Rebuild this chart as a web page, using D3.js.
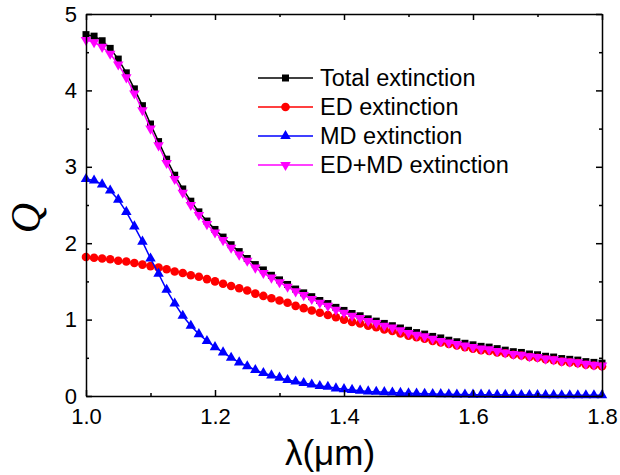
<!DOCTYPE html>
<html>
<head>
<meta charset="utf-8">
<script src="https://cdn.jsdelivr.net/npm/d3@7/dist/d3.min.js"></script>
<style>
  html, body { margin: 0; padding: 0; background: #fff; }
  svg { display: block; font-family: Arial, "Liberation Sans", sans-serif; }
</style>
</head>
<body>
<svg id="chart" width="620" height="475"></svg>
<script>
// Wavelength samples (µm)
const lambda = [1.0000,1.0125,1.0250,1.0375,1.0500,1.0625,1.0750,1.0875,1.1000,1.1125,1.1250,1.1375,1.1500,1.1625,1.1750,1.1875,
  1.2000,1.2125,1.2250,1.2375,1.2500,1.2625,1.2750,1.2875,1.3000,1.3125,1.3250,1.3375,1.3500,1.3625,1.3750,1.3875,
  1.4000,1.4125,1.4250,1.4375,1.4500,1.4625,1.4750,1.4875,1.5000,1.5125,1.5250,1.5375,1.5500,1.5625,1.5750,1.5875,
  1.6000,1.6125,1.6250,1.6375,1.6500,1.6625,1.6750,1.6875,1.7000,1.7125,1.7250,1.7375,1.7500,1.7625,1.7750,1.7875,1.8000];

// Extinction efficiencies
const totalExt = [4.73,4.71,4.65,4.55,4.41,4.23,4.02,3.80,3.56,3.33,3.10,2.89,2.71,2.55,2.41,2.29,
  2.18,2.08,1.98,1.89,1.80,1.72,1.65,1.58,1.52,1.46,1.40,1.35,1.30,1.25,1.21,1.16,
  1.12,1.08,1.05,1.01,0.98,0.95,0.92,0.89,0.86,0.83,0.81,0.78,0.76,0.73,0.71,0.69,
  0.67,0.65,0.64,0.62,0.60,0.58,0.57,0.55,0.54,0.52,0.51,0.49,0.48,0.47,0.45,0.44,0.43];
const edExt = [1.82,1.81,1.80,1.79,1.77,1.76,1.74,1.72,1.70,1.68,1.66,1.63,1.61,1.58,1.56,1.53,
  1.50,1.47,1.44,1.41,1.38,1.34,1.31,1.28,1.25,1.22,1.18,1.15,1.12,1.09,1.06,1.03,
  1.00,0.97,0.95,0.92,0.90,0.87,0.85,0.82,0.79,0.77,0.75,0.72,0.70,0.68,0.66,0.64,
  0.62,0.60,0.59,0.57,0.56,0.54,0.53,0.51,0.50,0.48,0.47,0.45,0.44,0.43,0.41,0.40,0.39];
const mdExt = [2.84,2.82,2.77,2.69,2.57,2.41,2.22,2.02,1.80,1.60,1.39,1.21,1.05,0.92,0.81,0.72,
  0.64,0.57,0.50,0.44,0.39,0.34,0.30,0.27,0.24,0.21,0.19,0.17,0.15,0.13,0.12,0.10,
  0.09,0.08,0.07,0.06,0.055,0.05,0.045,0.04,0.035,0.032,0.029,0.026,0.024,0.022,0.020,0.019,
  0.018,0.017,0.016,0.015,0.014,0.013,0.013,0.012,0.012,0.011,0.011,0.010,0.010,0.010,0.009,0.009,0.009];
const edmdExt = [4.66,4.63,4.57,4.48,4.34,4.17,3.96,3.74,3.50,3.28,3.05,2.84,2.66,2.50,2.37,2.25,
  2.14,2.04,1.94,1.85,1.77,1.68,1.61,1.55,1.49,1.43,1.37,1.32,1.27,1.22,1.18,1.13,
  1.09,1.05,1.02,0.98,0.955,0.92,0.895,0.86,0.825,0.80,0.78,0.75,0.72,0.70,0.68,0.66,
  0.64,0.62,0.61,0.59,0.57,0.55,0.54,0.52,0.51,0.49,0.48,0.46,0.45,0.44,0.42,0.41,0.40];

const seriesNames = ["Total extinction", "ED extinction", "MD extinction", "ED+MD extinction"];
const xTicks = [1.0, 1.2, 1.4, 1.6, 1.8];
const xMinor = [1.1, 1.3, 1.5, 1.7];
const yTicks = [0, 1, 2, 3, 4, 5];
const yMinor = [0.5, 1.5, 2.5, 3.5, 4.5];

const svg = d3.select("#chart");
const plotLeft = 86, plotRight = 602, plotTop = 14, plotBottom = 396;

const x = d3.scaleLinear().domain([1.0, 1.8]).range([plotLeft, plotRight]);
const y = d3.scaleLinear().domain([0, 5]).range([plotBottom, plotTop]);

const series = [
  { name: seriesNames[0], values: totalExt, color: "#000000", symbol: d3.symbolSquare, size: 49, rot: 0 },
  { name: seriesNames[1], values: edExt, color: "#ff0000", symbol: d3.symbolCircle, size: 58, rot: 0 },
  { name: seriesNames[2], values: mdExt, color: "#0000ff", symbol: d3.symbolTriangle, size: 48, rot: 0 },
  { name: seriesNames[3], values: edmdExt, color: "#ff00ff", symbol: d3.symbolTriangle, size: 48, rot: 180 }
];

const line = d3.line().x((d, i) => x(lambda[i])).y(d => y(d));

const plot = svg.append("g");
series.forEach(s => {
  plot.append("path")
    .attr("d", line(s.values))
    .attr("fill", "none")
    .attr("stroke", s.color)
    .attr("stroke-width", 1.5);
  const sym = d3.symbol().type(s.symbol).size(s.size);
  plot.selectAll(null).data(s.values).enter().append("path")
    .attr("d", sym)
    .attr("transform", (d, i) => `translate(${x(lambda[i])},${y(d)}) rotate(${s.rot})`)
    .attr("fill", s.color);
});

// Frame with inward ticks on all four sides
const axStyle = g => {
  g.select(".domain").attr("stroke", "#000").attr("stroke-width", 1.5);
  g.selectAll(".tick line").attr("stroke", "#000").attr("stroke-width", 1.5);
};

svg.append("g").attr("transform", `translate(0,${plotBottom})`)
  .call(d3.axisBottom(x).tickValues(xTicks).tickSize(-6).tickSizeOuter(0).tickFormat(d3.format(".1f")))
  .call(axStyle)
  .call(g => g.selectAll("text").attr("font-size", 22).attr("fill", "#000").attr("y", 12).attr("dy", "0.71em")
    .attr("font-family", "Arial, 'Liberation Sans', sans-serif"));
svg.append("g").attr("transform", `translate(0,${plotBottom})`)
  .call(d3.axisBottom(x).tickValues(xMinor).tickSize(-3).tickFormat(""))
  .call(axStyle).call(g => g.select(".domain").remove());

svg.append("g").attr("transform", `translate(0,${plotTop})`)
  .call(d3.axisTop(x).tickValues(xTicks).tickSize(-6).tickSizeOuter(0).tickFormat(""))
  .call(axStyle);
svg.append("g").attr("transform", `translate(0,${plotTop})`)
  .call(d3.axisTop(x).tickValues(xMinor).tickSize(-3).tickFormat(""))
  .call(axStyle).call(g => g.select(".domain").remove());

svg.append("g").attr("transform", `translate(${plotLeft},0)`)
  .call(d3.axisLeft(y).tickValues(yTicks).tickSize(-6).tickSizeOuter(0).tickFormat(d3.format("d")))
  .call(axStyle)
  .call(g => g.selectAll("text").attr("font-size", 22).attr("fill", "#000").attr("x", -9)
    .attr("font-family", "Arial, 'Liberation Sans', sans-serif"));
svg.append("g").attr("transform", `translate(${plotLeft},0)`)
  .call(d3.axisLeft(y).tickValues(yMinor).tickSize(-3).tickFormat(""))
  .call(axStyle).call(g => g.select(".domain").remove());

svg.append("g").attr("transform", `translate(${plotRight},0)`)
  .call(d3.axisRight(y).tickValues(yTicks).tickSize(-6).tickSizeOuter(0).tickFormat(""))
  .call(axStyle);
svg.append("g").attr("transform", `translate(${plotRight},0)`)
  .call(d3.axisRight(y).tickValues(yMinor).tickSize(-3).tickFormat(""))
  .call(axStyle).call(g => g.select(".domain").remove());

// Axis titles
svg.append("text")
  .attr("x", 330).attr("y", 465)
  .attr("text-anchor", "middle")
  .attr("font-size", 35)
  .attr("font-family", "Arial, 'Liberation Sans', sans-serif")
  .text("λ(μm)");

svg.append("text")
  .attr("transform", "translate(40,218) rotate(-90)")
  .attr("text-anchor", "middle")
  .attr("font-size", 42)
  .attr("font-style", "italic")
  .attr("font-family", "'Liberation Serif', 'Times New Roman', serif")
  .text("Q");

// Legend
const legend = svg.append("g");
const legY = [78, 107, 136, 165];
series.forEach((s, i) => {
  const row = legend.append("g").attr("transform", `translate(0,${legY[i]})`);
  row.append("line").attr("x1", 258).attr("x2", 313).attr("y1", 0).attr("y2", 0)
    .attr("stroke", s.color).attr("stroke-width", 1.5);
  row.append("path").attr("d", d3.symbol().type(s.symbol).size(s.size))
    .attr("transform", `translate(285.5,0) rotate(${s.rot})`)
    .attr("fill", s.color);
  row.append("text").attr("x", 320).attr("y", 8)
    .attr("font-size", 23.5)
    .attr("font-family", "Arial, 'Liberation Sans', sans-serif")
    .text(s.name);
});
</script>
</body>
</html>
